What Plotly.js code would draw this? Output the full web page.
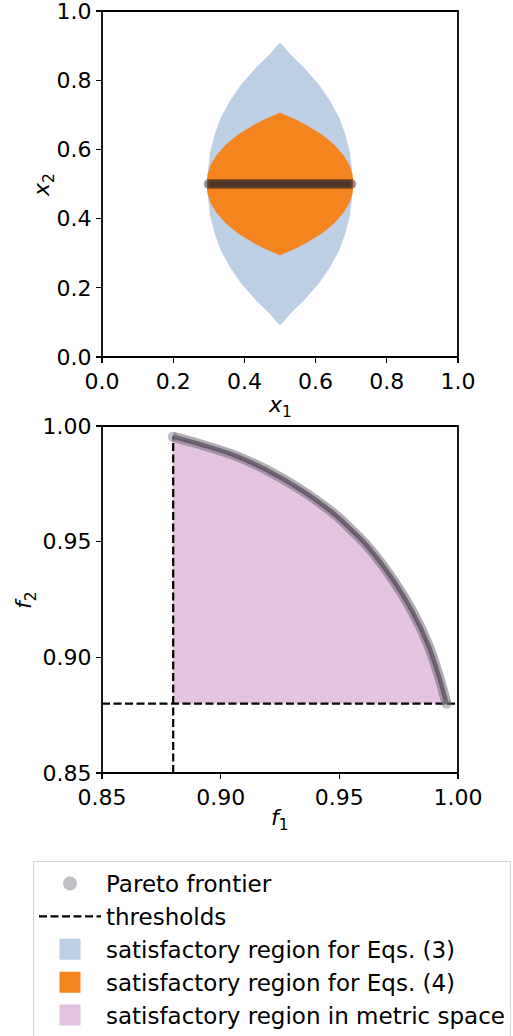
<!DOCTYPE html>
<html>
<head>
<meta charset="utf-8">
<script src="https://cdn.plot.ly/plotly-3.0.1.min.js"></script>
<style>html,body{margin:0;padding:0;background:#fff;}#chart{width:513px;height:1036px;}</style>
</head>
<body>
<div id="chart"></div>
<script>
// ---- data ----
// satisfactory region for Eqs. (3) (decision space), boundary points
const blueX = [0.500,0.469,0.430,0.390,0.358,0.333,0.316,0.304,0.298,0.295,0.298,0.304,0.316,0.333,0.358,0.390,0.430,0.469,0.500,0.531,0.570,0.610,0.642,0.667,0.684,0.696,0.702,0.705,0.702,0.696,0.684,0.667,0.642,0.610,0.570,0.531];
const blueY = [0.909,0.873,0.834,0.786,0.738,0.690,0.642,0.593,0.545,0.500,0.455,0.407,0.358,0.310,0.262,0.214,0.166,0.127,0.091,0.127,0.166,0.214,0.262,0.310,0.358,0.407,0.455,0.500,0.545,0.593,0.642,0.690,0.738,0.786,0.834,0.873];
// satisfactory region for Eqs. (4)
const orangeX = [0.500,0.463,0.425,0.381,0.347,0.322,0.305,0.296,0.294,0.296,0.305,0.322,0.347,0.381,0.425,0.463,0.500,0.537,0.575,0.619,0.653,0.678,0.695,0.704,0.706,0.704,0.695,0.678,0.653,0.619,0.575,0.537];
const orangeY = [0.706,0.690,0.670,0.642,0.613,0.584,0.555,0.526,0.500,0.474,0.445,0.416,0.387,0.358,0.330,0.310,0.294,0.310,0.330,0.358,0.387,0.416,0.445,0.474,0.500,0.526,0.555,0.584,0.613,0.642,0.670,0.690];
// Pareto frontier in decision space
const paretoX1 = [0.30,0.31,0.32,0.33,0.34,0.35,0.36,0.37,0.38,0.39,0.40,0.41,0.42,0.43,0.44,0.45,0.46,0.47,0.48,0.49,0.50,0.51,0.52,0.53,0.54,0.55,0.56,0.57,0.58,0.59,0.60,0.61,0.62,0.63,0.64,0.65,0.66,0.67,0.68,0.69,0.70];
const paretoX2 = [0.5,0.5,0.5,0.5,0.5,0.5,0.5,0.5,0.5,0.5,0.5,0.5,0.5,0.5,0.5,0.5,0.5,0.5,0.5,0.5,0.5,0.5,0.5,0.5,0.5,0.5,0.5,0.5,0.5,0.5,0.5,0.5,0.5,0.5,0.5,0.5,0.5,0.5,0.5,0.5,0.5];
// Pareto frontier in metric space
const paretoF1 = [0.8798,0.8913,0.9053,0.9194,0.9334,0.9475,0.9551,0.9623,0.9727,0.9810,0.9875,0.9921,0.9952];
const paretoF2 = [0.9954,0.9921,0.9875,0.9810,0.9727,0.9623,0.9551,0.9475,0.9334,0.9194,0.9053,0.8913,0.8798];
// thresholds
const threshold = 0.88;
const fMin = 0.85, fMax = 1.00;
// tick labels
const topTicks = [0, 0.2, 0.4, 0.6, 0.8, 1.0];
const topTickText = ['0.0','0.2','0.4','0.6','0.8','1.0'];
const botTicks = [0.85, 0.90, 0.95, 1.00];
const botTickText = ['0.85','0.90','0.95','1.00'];
const names = ['Pareto frontier','thresholds','satisfactory region for Eqs. (3)','satisfactory region for Eqs. (4)','satisfactory region in metric space'];
const axisTitles = ['<i>x</i><sub>1</sub>','<i>x</i><sub>2</sub>','<i>f</i><sub>1</sub>','<i>f</i><sub>2</sub>'];

const BLUE = '#bccfe5', ORANGE = '#f5841f', PINK = '#e3c3df';
const FONT = 'DejaVu Sans, Verdana, sans-serif';

// pink region polygon built from thresholds and frontier
const pinkX = [threshold].concat(paretoF1, [paretoF1[paretoF1.length-1]]);
const pinkY = [threshold].concat(paretoF2, [threshold]);

const traces = [
  {x: blueX, y: blueY, xaxis:'x', yaxis:'y', mode:'lines', fill:'toself', fillcolor: BLUE, line:{width:0, color: BLUE}, showlegend:false, hoverinfo:'skip'},
  {x: orangeX, y: orangeY, xaxis:'x', yaxis:'y', mode:'lines', fill:'toself', fillcolor: ORANGE, line:{width:0, color: ORANGE}, showlegend:false, hoverinfo:'skip'},
  {x: paretoX1, y: paretoX2, xaxis:'x', yaxis:'y', mode:'markers', marker:{size:10, color:'rgba(45,40,45,0.5)', line:{width:0}}, showlegend:false},
  {x: pinkX, y: pinkY, xaxis:'x2', yaxis:'y2', mode:'lines', fill:'toself', fillcolor: PINK, line:{width:0, color: PINK}, showlegend:false, hoverinfo:'skip'},
  {x: [threshold, threshold, null, fMin, fMax], y: [fMin, paretoF2[0], null, threshold, threshold], xaxis:'x2', yaxis:'y2', mode:'lines',
   line:{color:'black', width:2.2, dash:'8px,3.5px'}, name: names[1], legendgroup:'g2', legendrank:2, showlegend:true},
  {x: paretoF1, y: paretoF2, xaxis:'x2', yaxis:'y2', mode:'lines', line:{width:10, color:'rgba(115,105,120,0.55)', shape:'spline'}, showlegend:false},
  {x: paretoF1, y: paretoF2, xaxis:'x2', yaxis:'y2', mode:'lines', line:{width:4.5, color:'rgba(65,55,70,0.6)', shape:'spline'}, showlegend:false},
  {x: [paretoF1[0], paretoF1[paretoF1.length-1]], y: [paretoF2[0], paretoF2[paretoF2.length-1]], xaxis:'x2', yaxis:'y2', mode:'markers',
   marker:{size:10, color:'rgba(120,115,125,0.45)'}, showlegend:false},
  // legend entries
  {x:[null], y:[null], xaxis:'x2', yaxis:'y2', mode:'markers', marker:{size:14, color:'#c0c0c4'}, name: names[0], legendgroup:'g1', legendrank:1},
  {x:[null], y:[null], xaxis:'x2', yaxis:'y2', mode:'markers', marker:{size:16, symbol:'square', color: BLUE, line:{width:5, color: BLUE}}, name: names[2], legendgroup:'g3', legendrank:3},
  {x:[null], y:[null], xaxis:'x2', yaxis:'y2', mode:'markers', marker:{size:16, symbol:'square', color: ORANGE, line:{width:5, color: ORANGE}}, name: names[3], legendgroup:'g4', legendrank:4},
  {x:[null], y:[null], xaxis:'x2', yaxis:'y2', mode:'markers', marker:{size:16, symbol:'square', color: PINK, line:{width:5, color: PINK}}, name: names[4], legendgroup:'g5', legendrank:5}
];

function axis(range, tickvals, ticktext, domain, anchor) {
  return {
    range: range, domain: domain, anchor: anchor,
    tickmode:'array', tickvals: tickvals, ticktext: ticktext,
    ticks:'outside', ticklen:5, tickwidth:1.4, tickcolor:'black',
    showline:false, mirror:false, ticklabeloverflow:'allow',
    showgrid:false, zeroline:false, fixedrange:true, automargin:false,
    tickfont:{family: FONT, size:22, color:'black'}
  };
}

function frame(xr, yr) {
  return {type:'rect', xref: xr + ' domain', yref: yr + ' domain', x0:0, x1:1, y0:0, y1:1,
          line:{color:'black', width:1.8}, fillcolor:'rgba(0,0,0,0)', layer:'above'};
}

const axTitle = (text, x, y, angle) => ({text: text, xref:'paper', yref:'paper', x: x, y: y, xanchor:'center', yanchor:'middle',
  textangle: angle, showarrow:false, font:{family: FONT, size:22, color:'black'}});

const layout = {
  width:513, height:1036,
  margin:{l:0, r:0, t:0, b:0, autoexpand:false},
  paper_bgcolor:'white', plot_bgcolor:'white',
  font:{family: FONT, size:22, color:'black'},
  xaxis: axis([0,1], topTicks, topTickText, [102/513, 458/513], 'y'),
  yaxis: axis([0,1], topTicks, topTickText, [1-357/1036, 1-11/1036], 'x'),
  xaxis2: axis([fMin,fMax], botTicks, botTickText, [102/513, 458/513], 'y2'),
  yaxis2: axis([fMin,fMax], botTicks, botTickText, [1-773/1036, 1-426/1036], 'x2'),
  shapes: [frame('x','y'), frame('x2','y2')],
  annotations: [
    axTitle(axisTitles[0], 280/513, 1-406/1036, 0),
    axTitle(axisTitles[1], 43/513, 1-185/1036, -90),
    axTitle(axisTitles[2], 280/513, 1-819/1036, 0),
    axTitle(axisTitles[3], 25/513, 1-600/1036, -90)
  ],
  showlegend:true,
  legend:{
    x: 33/513, y: 1-861/1036, xref:'container', yref:'container', xanchor:'left', yanchor:'top',
    bgcolor:'white', bordercolor:'#d6d6d6', borderwidth:1,
    font:{family: FONT, size:23, color:'black'},
    itemwidth:62, tracegroupgap:4, traceorder:'normal', itemclick:false, itemdoubleclick:false
  }
};

Plotly.newPlot('chart', traces, layout, {staticPlot:true, displayModeBar:false});
</script>
</body>
</html>
